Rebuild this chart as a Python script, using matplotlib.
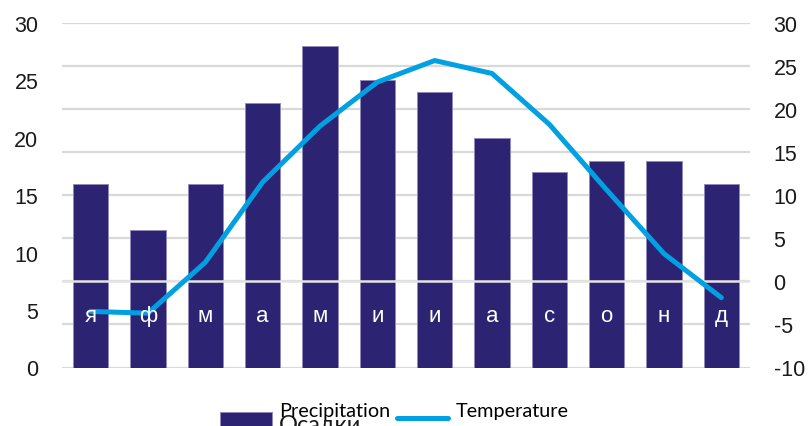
import matplotlib
matplotlib.use("Agg")
import matplotlib.pyplot as plt
import numpy as np
from matplotlib.patches import Rectangle
from matplotlib.legend_handler import HandlerPatch, HandlerLine2D
from matplotlib.lines import Line2D

# Monthly climate data
months = ["я", "ф", "м", "а", "м", "и", "и", "а", "с", "о", "н", "д"]
precipitation = [16, 12, 16, 23, 28, 25, 24, 20, 17, 18, 18, 16]
temperature = [-3.5, -3.7, 2.2, 11.5, 18, 23.1, 25.6, 24.1, 18.2, 10.6, 3.2, -1.9]

precip_ticks = [0, 5, 10, 15, 20, 25, 30]
temp_ticks = [-10, -5, 0, 5, 10, 15, 20, 25, 30]

BAR = "#2d2373"
BAR_EDGE = "#8f89bd"
LINE = "#00a0e3"
GRID = "#d9d9d9"

plt.rcParams["font.family"] = ["Liberation Sans", "DejaVu Sans"]
plt.rcParams["axes.unicode_minus"] = False

fig = plt.figure(figsize=(8.1, 4.27), dpi=100)
ax = fig.add_axes([62 / 810, 58.5 / 427, 688 / 810, 344.9 / 427])
ax2 = ax.twinx()

x = list(range(len(months)))

# secondary-axis gridlines drawn behind the bars
p_lo, p_hi = precip_ticks[0], precip_ticks[-1]
t_lo, t_hi = temp_ticks[0], temp_ticks[-1]
for t in temp_ticks:
    yv = p_lo + (t - t_lo) * (p_hi - p_lo) / (t_hi - t_lo)
    ax.axhline(yv, color=GRID, lw=1.6, zorder=0)

bars = ax.bar(x, precipitation, width=0.62, color=BAR, edgecolor=BAR_EDGE,
              linewidth=0.7, zorder=2, label="Precipitation")
ax.set_ylim(p_lo, p_hi)
ax.set_yticks(precip_ticks)
ax.set_xlim(-0.5, len(months) - 0.5)
ax.set_xticks([])

# temperature axis: zero line over the bars, month labels beneath it
ax2.axhline(0, color="#e4e4e4", lw=1.8, zorder=1)
line, = ax2.plot(x, temperature, color=LINE, lw=3.6, solid_capstyle="round",
                 solid_joinstyle="round", zorder=3, label="Temperature")
ax2.set_ylim(t_lo, t_hi)
ax2.set_yticks(temp_ticks)
for xi, m in zip(x, months):
    ax2.text(xi, -4.0, m, color="white", ha="center", va="center",
             fontsize=16, zorder=4)

for a in (ax, ax2):
    for s in a.spines.values():
        s.set_visible(False)
    a.tick_params(length=0, labelsize=15.5, labelcolor="#1a1a1a")
ax.tick_params(axis="y", pad=17)
ax2.tick_params(axis="y", pad=17)


# legend keys sit a little below their labels
def low_patch(legend, orig_handle, xdescent, ydescent, width, height, fontsize):
    return Rectangle((-xdescent, -ydescent - 7.5), width, height)


class LowLine(HandlerLine2D):
    def create_artists(self, legend, orig_handle, xdescent, ydescent, width,
                       height, fontsize, trans):
        arts = super().create_artists(legend, orig_handle, xdescent, ydescent,
                                      width, height, fontsize, trans)
        for a in arts:
            if isinstance(a, Line2D):
                a.set_ydata(np.asarray(a.get_ydata()) - 6.5)
        return arts


key_bar = bars.patches[0]
leg = fig.legend(handles=[key_bar, line], labels=["Precipitation", "Temperature"],
                 handler_map={key_bar: HandlerPatch(patch_func=low_patch),
                              line: LowLine()},
                 loc="center left", bbox_to_anchor=(220 / 810, 1 - 411 / 427),
                 ncol=2, frameon=False, borderpad=0, borderaxespad=0,
                 handlelength=2.6, handleheight=0.85, handletextpad=0.38,
                 columnspacing=0.32,
                 prop={"family": ["Lato", "DejaVu Sans"], "size": 14.3})
fig.text(279 / 810, 1 - 415 / 427, "Осадки", ha="left", va="top",
         fontsize=17, family=["Lato", "DejaVu Sans"], color="#1a1a1a")

fig.savefig("out.png", dpi=100)
